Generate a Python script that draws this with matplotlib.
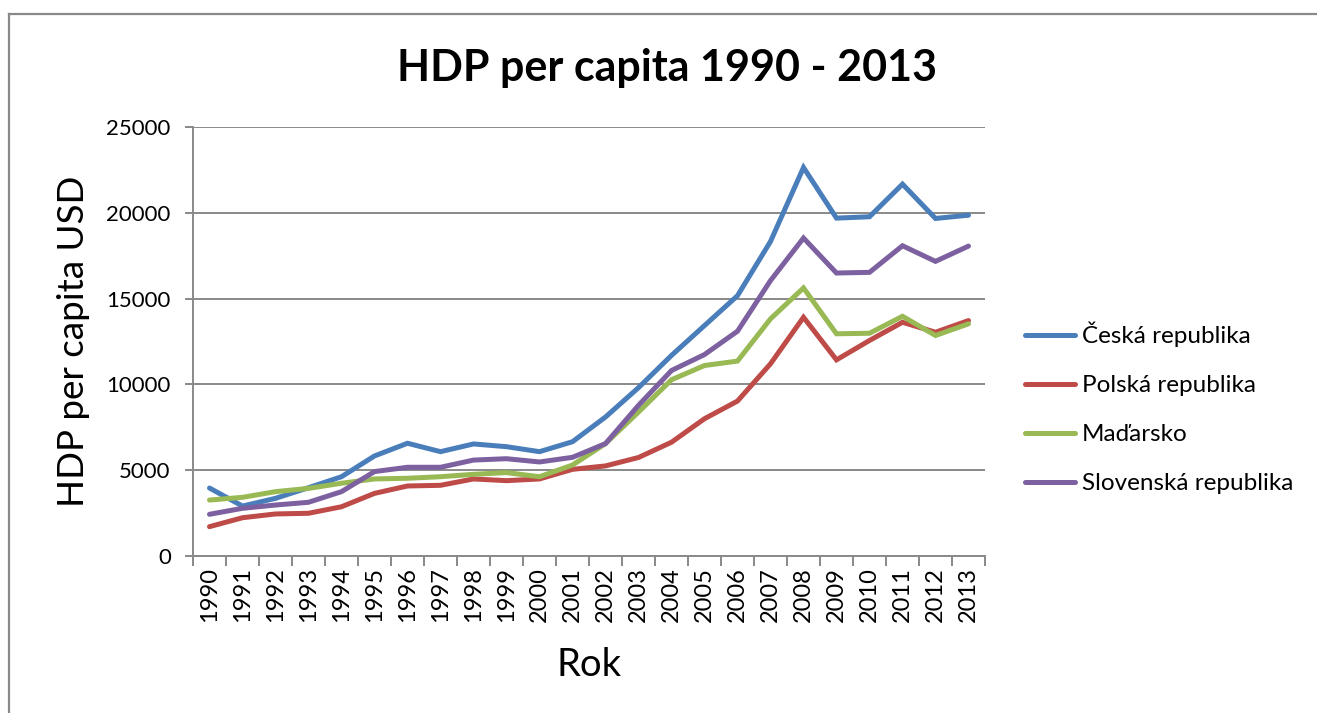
import matplotlib
matplotlib.use("Agg")
import matplotlib.pyplot as plt
from matplotlib.lines import Line2D

years = [str(y) for y in range(1990, 2014)]

ceska = [3960, 2910, 3360, 3980, 4620, 5830, 6570, 6080, 6530, 6370, 6080, 6660,
         8100, 9810, 11690, 13430, 15170, 18330, 22640, 19690, 19770, 21670, 19670, 19860]
polska = [1710, 2230, 2450, 2490, 2870, 3650, 4080, 4120, 4490, 4390, 4490, 5050,
          5250, 5740, 6630, 8000, 9030, 11200, 13910, 11430, 12560, 13620, 13040, 13720]
madarsko = [3260, 3420, 3750, 3940, 4240, 4490, 4530, 4620, 4760, 4860, 4620, 5300,
            6550, 8390, 10270, 11100, 11360, 13820, 15620, 12950, 12980, 13970, 12850, 13530]
slovensko = [2430, 2780, 2970, 3130, 3750, 4920, 5170, 5170, 5590, 5670, 5480, 5750,
             6550, 8780, 10810, 11740, 13100, 16050, 18530, 16490, 16530, 18080, 17170, 18060]

series = [
    ("Česká republika", ceska, "#4A7EBB"),
    ("Polská republika", polska, "#BE4B48"),
    ("Maďarsko", madarsko, "#98B954"),
    ("Slovenská republika", slovensko, "#7D60A0"),
]

plt.rcParams["font.family"] = ["Lato", "DejaVu Sans"]

W, H = 1317, 713
fig = plt.figure(figsize=(W / 100, H / 100), dpi=100)
ax = fig.add_axes([193 / W, 1 - 556 / H, (985 - 193) / W, (556 - 127) / H])

grid_c = "#898989"
LW = 3.6
x = list(range(len(years)))
for name, vals, col in series:
    ax.plot(x, vals, color=col, lw=LW, label=name, solid_capstyle="round",
            solid_joinstyle="miter")

ax.set_xlim(-0.5, len(years) - 0.5)
ax.set_ylim(0, 25000)
ax.set_yticks(range(0, 25001, 5000))
ax.yaxis.grid(True, color=grid_c, lw=1.4)
ax.set_axisbelow(True)

ax.set_xticks(x)
ax.set_xticklabels(years, rotation=90, fontsize=17)
ax.tick_params(axis="x", which="major", length=0, pad=8)
ax.set_xticks([i - 0.5 for i in range(len(years) + 1)], minor=True)
ax.tick_params(axis="x", which="minor", length=7, width=1.4, color=grid_c, direction="out")
ax.tick_params(axis="y", length=6, width=1.4, color=grid_c, labelsize=16, pad=10)

for s in ["top", "right"]:
    ax.spines[s].set_visible(False)
for s in ["left", "bottom"]:
    ax.spines[s].set_color(grid_c)
    ax.spines[s].set_linewidth(1.4)

ax.set_ylabel("HDP per capita USD", fontsize=26.5, labelpad=12)
ax.set_xlabel("Rok", fontsize=27.5, labelpad=18)

fig.text(667 / W, 1 - 68 / H, "HDP per capita 1990 - 2013", fontsize=31,
         fontweight="bold", ha="center", va="center")

handles = [Line2D([], [], color=c, lw=LW, solid_capstyle="round") for _, _, c in series]
fig.legend(handles, [n for n, _, _ in series], loc="center left",
           bbox_to_anchor=(1025 / W, 1 - 408 / H), frameon=False, fontsize=17.5,
           handlelength=2.05, handletextpad=0.3, labelspacing=1.15,
           borderaxespad=0, borderpad=0)

# outer chart border
fig.add_artist(Line2D([8.5 / W, 8.5 / W], [0, 1 - 14 / H], transform=fig.transFigure,
                      color=grid_c, lw=1.6))
fig.add_artist(Line2D([8.5 / W, 1], [1 - 14 / H, 1 - 14 / H], transform=fig.transFigure,
                      color=grid_c, lw=1.6))

fig.savefig("out.png", dpi=100)
